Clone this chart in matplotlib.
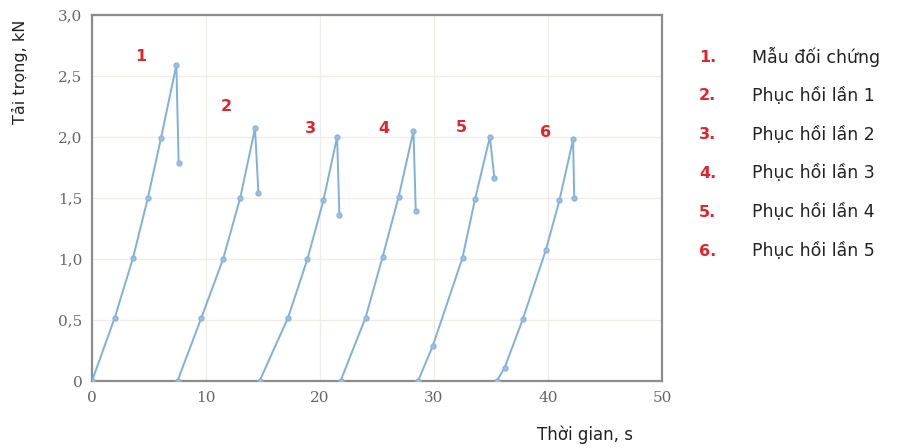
import numpy as np
import matplotlib
matplotlib.use('Agg')
import matplotlib.pyplot as plt

# Thời gian (s) va tải trọng (kN) cho tung mau
t1 = [0.0, 2.0, 3.6, 4.9, 6.05, 7.4, 7.6]
f1 = [0.0, 0.52, 1.01, 1.50, 1.99, 2.59, 1.79]

t2 = [7.5, 9.6, 11.5, 13.0, 14.3, 14.6]
f2 = [0.0, 0.52, 1.00, 1.50, 2.07, 1.54]

t3 = [14.7, 17.2, 18.9, 20.3, 21.5, 21.7]
f3 = [0.0, 0.52, 1.00, 1.48, 2.00, 1.36]

t4 = [21.8, 24.0, 25.5, 26.9, 28.2, 28.4]
f4 = [0.0, 0.52, 1.02, 1.51, 2.05, 1.39]

t5 = [28.6, 29.9, 32.5, 33.6, 34.9, 35.3]
f5 = [0.0, 0.29, 1.01, 1.49, 2.00, 1.66]

t6 = [35.5, 36.2, 37.8, 39.8, 41.0, 42.2, 42.3]
f6 = [0.0, 0.11, 0.51, 1.07, 1.48, 1.98, 1.50]

series = [(t1, f1), (t2, f2), (t3, f3), (t4, f4), (t5, f5), (t6, f6)]

# Nhan so tren duong cong
tag_x = [4.3, 11.75, 19.2, 25.6, 32.4, 39.8]
tag_y = [2.66, 2.25, 2.07, 2.07, 2.08, 2.04]

legend_names = ["Mẫu đối chứng", "Phục hồi lần 1", "Phục hồi lần 2",
                "Phục hồi lần 3", "Phục hồi lần 4", "Phục hồi lần 5"]

yticks = [0, 0.5, 1.0, 1.5, 2.0, 2.5, 3.0]
ytick_labels = ["0", "0,5", "1,0", "1,5", "2,0", "2,5", "3,0"]
xticks = [0, 10, 20, 30, 40, 50]

red = '#e3242b'
blue = '#7fb0de'

fig = plt.figure(figsize=(9.24, 4.48), dpi=100)
ax = fig.add_axes([92/924, 1-381/448, 570/924, 366/448])

for t, f in series:
    ax.plot(t, f, color=blue, lw=1.4, marker='o', ms=3.5,
            mfc='#9cc0e2', mec='#8ab4dc', zorder=3)

for i in range(6):
    ax.text(tag_x[i], tag_y[i], str(i+1), color=red, fontsize=11.5,
            fontweight='bold', ha='center', va='center')

ax.set_xlim(0, 50)
ax.set_ylim(0, 3.0)
ax.set_xticks(xticks)
ax.set_yticks(yticks)
ax.set_yticklabels(ytick_labels)
ax.grid(True, color='#f1ece6', lw=0.9)
ax.set_axisbelow(True)
ax.tick_params(length=0, pad=7, colors='#666666', labelsize=11)
for lab in ax.get_xticklabels() + ax.get_yticklabels():
    lab.set_family('DejaVu Serif')
for s in ax.spines.values():
    s.set_color('#8c8c8c')
    s.set_linewidth(1.6)

fig.text(20/924, 1-72/448, "Tải trọng, kN", rotation=90, ha='center',
         va='center', fontsize=11.5, color='#222222')
fig.text(585/924, 1-435/448, "Thời gian, s", ha='center', va='center',
         fontsize=12, color='#222222')

# Chu thich ben phai
for i, name in enumerate(legend_names):
    y = 1 - (57 + i*38.8)/448
    fig.text(699/924, y, "%d." % (i+1), color=red, fontsize=11.5,
             fontweight='bold', ha='left', va='center')
    fig.text(752/924, y, name, color='#222222', fontsize=12.5,
             ha='left', va='center')

fig.savefig('out.png', dpi=100)
